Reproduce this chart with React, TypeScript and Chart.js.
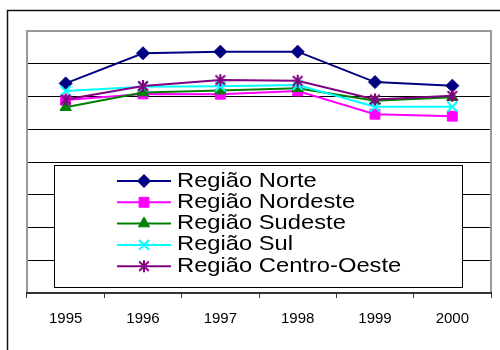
import React, { useEffect, useRef } from 'react';
import { Chart, registerables } from 'chart.js';
import { drawPoint } from 'chart.js/helpers';

Chart.register(...registerables);

// Anos no eixo horizontal
const years = ['1995', '1996', '1997', '1998', '1999', '2000'];

// Séries por região
const norte = [6.4, 7.32, 7.37, 7.37, 6.44, 6.33];
const nordeste = [5.89, 6.08, 6.07, 6.17, 5.46, 5.4];
const sudeste = [5.67, 6.12, 6.18, 6.25, 5.87, 5.98];
const sul = [6.17, 6.3, 6.31, 6.35, 5.69, 5.69];
const centroOeste = [5.91, 6.32, 6.5, 6.48, 5.91, 6.02];

const seriesNames = ['Região Norte', 'Região Nordeste', 'Região Sudeste', 'Região Sul', 'Região Centro-Oeste'];
const seriesValues = [norte, nordeste, sudeste, sul, centroOeste];
const seriesColors = ['#000080', '#FF00FF', '#008000', '#00FFFF', '#800080'];
const seriesMarkers = ['rectRot', 'rect', 'triangle', 'crossRot', 'asterisk'];
const markerRadius = [6.5, 7, 6.5, 7, 6];

const FONT = '"Liberation Sans", Arial, sans-serif';

const isOpenMarker = (m: string) => m === 'crossRot' || m === 'asterisk' || m === 'cross';

// six-spoke asterisk marker (X with a vertical bar)
function makeAsterisk(color: string, r: number): HTMLCanvasElement {
  const size = Math.ceil(r * 2 + 2);
  const c = document.createElement('canvas');
  c.width = size;
  c.height = size;
  const g = c.getContext('2d')!;
  const m = size / 2;
  const d = r * 0.8;
  g.strokeStyle = color;
  g.lineWidth = 2;
  g.beginPath();
  g.moveTo(m, m - r);
  g.lineTo(m, m + r);
  g.moveTo(m - d, m - d);
  g.lineTo(m + d, m + d);
  g.moveTo(m + d, m - d);
  g.lineTo(m - d, m + d);
  g.stroke();
  return c;
}

function resolveStyle(i: number): any {
  return seriesMarkers[i] === 'asterisk' ? makeAsterisk(seriesColors[i], markerRadius[i]) : seriesMarkers[i];
}

const decorPlugin = {
  id: 'decor',
  beforeDraw(chart: any) {
    const { ctx, width, height } = chart;
    ctx.save();
    ctx.fillStyle = '#ffffff';
    ctx.fillRect(0, 0, width, height);
    // outer frame (top and left edges visible)
    ctx.strokeStyle = '#111111';
    ctx.lineWidth = 1.5;
    ctx.beginPath();
    ctx.moveTo(7.5, height);
    ctx.lineTo(7.5, 10.5);
    ctx.lineTo(width, 10.5);
    ctx.stroke();
    ctx.restore();
  },
  beforeDatasetsDraw(chart: any) {
    const { ctx, chartArea: a } = chart;
    ctx.save();
    ctx.strokeStyle = '#9a9a9a';
    ctx.lineWidth = 2;
    ctx.beginPath();
    ctx.moveTo(a.left, a.bottom);
    ctx.lineTo(a.left, a.top);
    ctx.lineTo(a.right, a.top);
    ctx.lineTo(a.right, a.bottom);
    ctx.stroke();
    ctx.strokeStyle = '#333333';
    ctx.beginPath();
    ctx.moveTo(a.left - 1, a.bottom);
    ctx.lineTo(a.right + 1, a.bottom);
    ctx.stroke();
    ctx.restore();
  },
  afterDraw(chart: any) {
    const { ctx, chartArea: a } = chart;
    const boxL = a.left + 27;
    const boxR = a.right - 29;
    const boxT = 165;
    const boxB = 287;
    ctx.save();
    ctx.fillStyle = '#ffffff';
    ctx.fillRect(boxL, boxT, boxR - boxL, boxB - boxT);
    ctx.strokeStyle = '#000000';
    ctx.lineWidth = 1;
    ctx.strokeRect(boxL + 0.5, boxT + 0.5, boxR - boxL, boxB - boxT);

    const rowStart = 181;
    const rowGap = 21.3;
    const lineL = 117;
    const lineR = 171;
    const textX = 177;
    seriesNames.forEach((name, i) => {
      const y = rowStart + i * rowGap;
      const color = seriesColors[i];
      ctx.strokeStyle = color;
      ctx.lineWidth = 2;
      ctx.beginPath();
      ctx.moveTo(lineL, y);
      ctx.lineTo(lineR, y);
      ctx.stroke();
      const open = isOpenMarker(seriesMarkers[i]);
      ctx.fillStyle = color;
      ctx.strokeStyle = color;
      ctx.lineWidth = open ? 2 : 1;
      drawPoint(ctx, { pointStyle: resolveStyle(i), radius: markerRadius[i], rotation: 0, borderWidth: open ? 2 : 1 } as any, (lineL + lineR) / 2, y);

      ctx.save();
      ctx.fillStyle = '#000000';
      ctx.font = `21px ${FONT}`;
      ctx.textBaseline = 'alphabetic';
      ctx.textAlign = 'left';
      ctx.translate(textX, y + 5.5);
      ctx.scale(1.13, 1);
      ctx.fillText(name, 0, 0);
      ctx.restore();
    });
    ctx.restore();
  },
};

export default function App() {
  const canvasRef = useRef<HTMLCanvasElement | null>(null);

  useEffect(() => {
    const canvas = canvasRef.current;
    if (!canvas) return;
    const chart = new Chart(canvas, {
      type: 'line',
      data: {
        labels: years,
        datasets: seriesNames.map((name, i) => {
          const open = isOpenMarker(seriesMarkers[i]);
          return {
            label: name,
            data: seriesValues[i],
            borderColor: seriesColors[i],
            backgroundColor: seriesColors[i],
            borderWidth: 2,
            pointStyle: resolveStyle(i),
            pointRadius: markerRadius[i],
            pointBorderWidth: open ? 2 : 1,
            pointBorderColor: seriesColors[i],
            pointBackgroundColor: seriesColors[i],
            tension: 0,
            fill: false,
            order: seriesNames.length - 1 - i,
          };
        }),
      },
      options: {
        responsive: false,
        maintainAspectRatio: false,
        devicePixelRatio: 1,
        animation: false,
        events: [],
        layout: { padding: { left: 27, right: 7, top: 31, bottom: 0 } },
        plugins: {
          legend: { display: false },
          tooltip: { enabled: false },
        },
        scales: {
          x: {
            type: 'category',
            offset: true,
            afterFit: (scale: any) => {
              scale.height = 57;
            },
            grid: {
              display: true,
              drawOnChartArea: false,
              drawTicks: true,
              tickLength: 5,
              offset: true,
              color: '#333333',
              lineWidth: 1,
            },
            border: { display: false },
            ticks: {
              color: '#000000',
              padding: 12,
              maxRotation: 0,
              font: { family: FONT, size: 15 },
            },
          },
          y: {
            min: 0,
            max: 8,
            ticks: { display: false, stepSize: 1 },
            grid: {
              drawTicks: false,
              color: '#000000',
              lineWidth: 1,
            },
            border: { display: false },
          },
        },
      },
      plugins: [decorPlugin],
    });
    return () => chart.destroy();
  }, []);

  return (
    <div style={{ position: 'fixed', left: 0, top: 0, width: 500, height: 350, background: '#fff' }}>
      <canvas ref={canvasRef} width={500} height={350} style={{ display: 'block' }} />
    </div>
  );
}
